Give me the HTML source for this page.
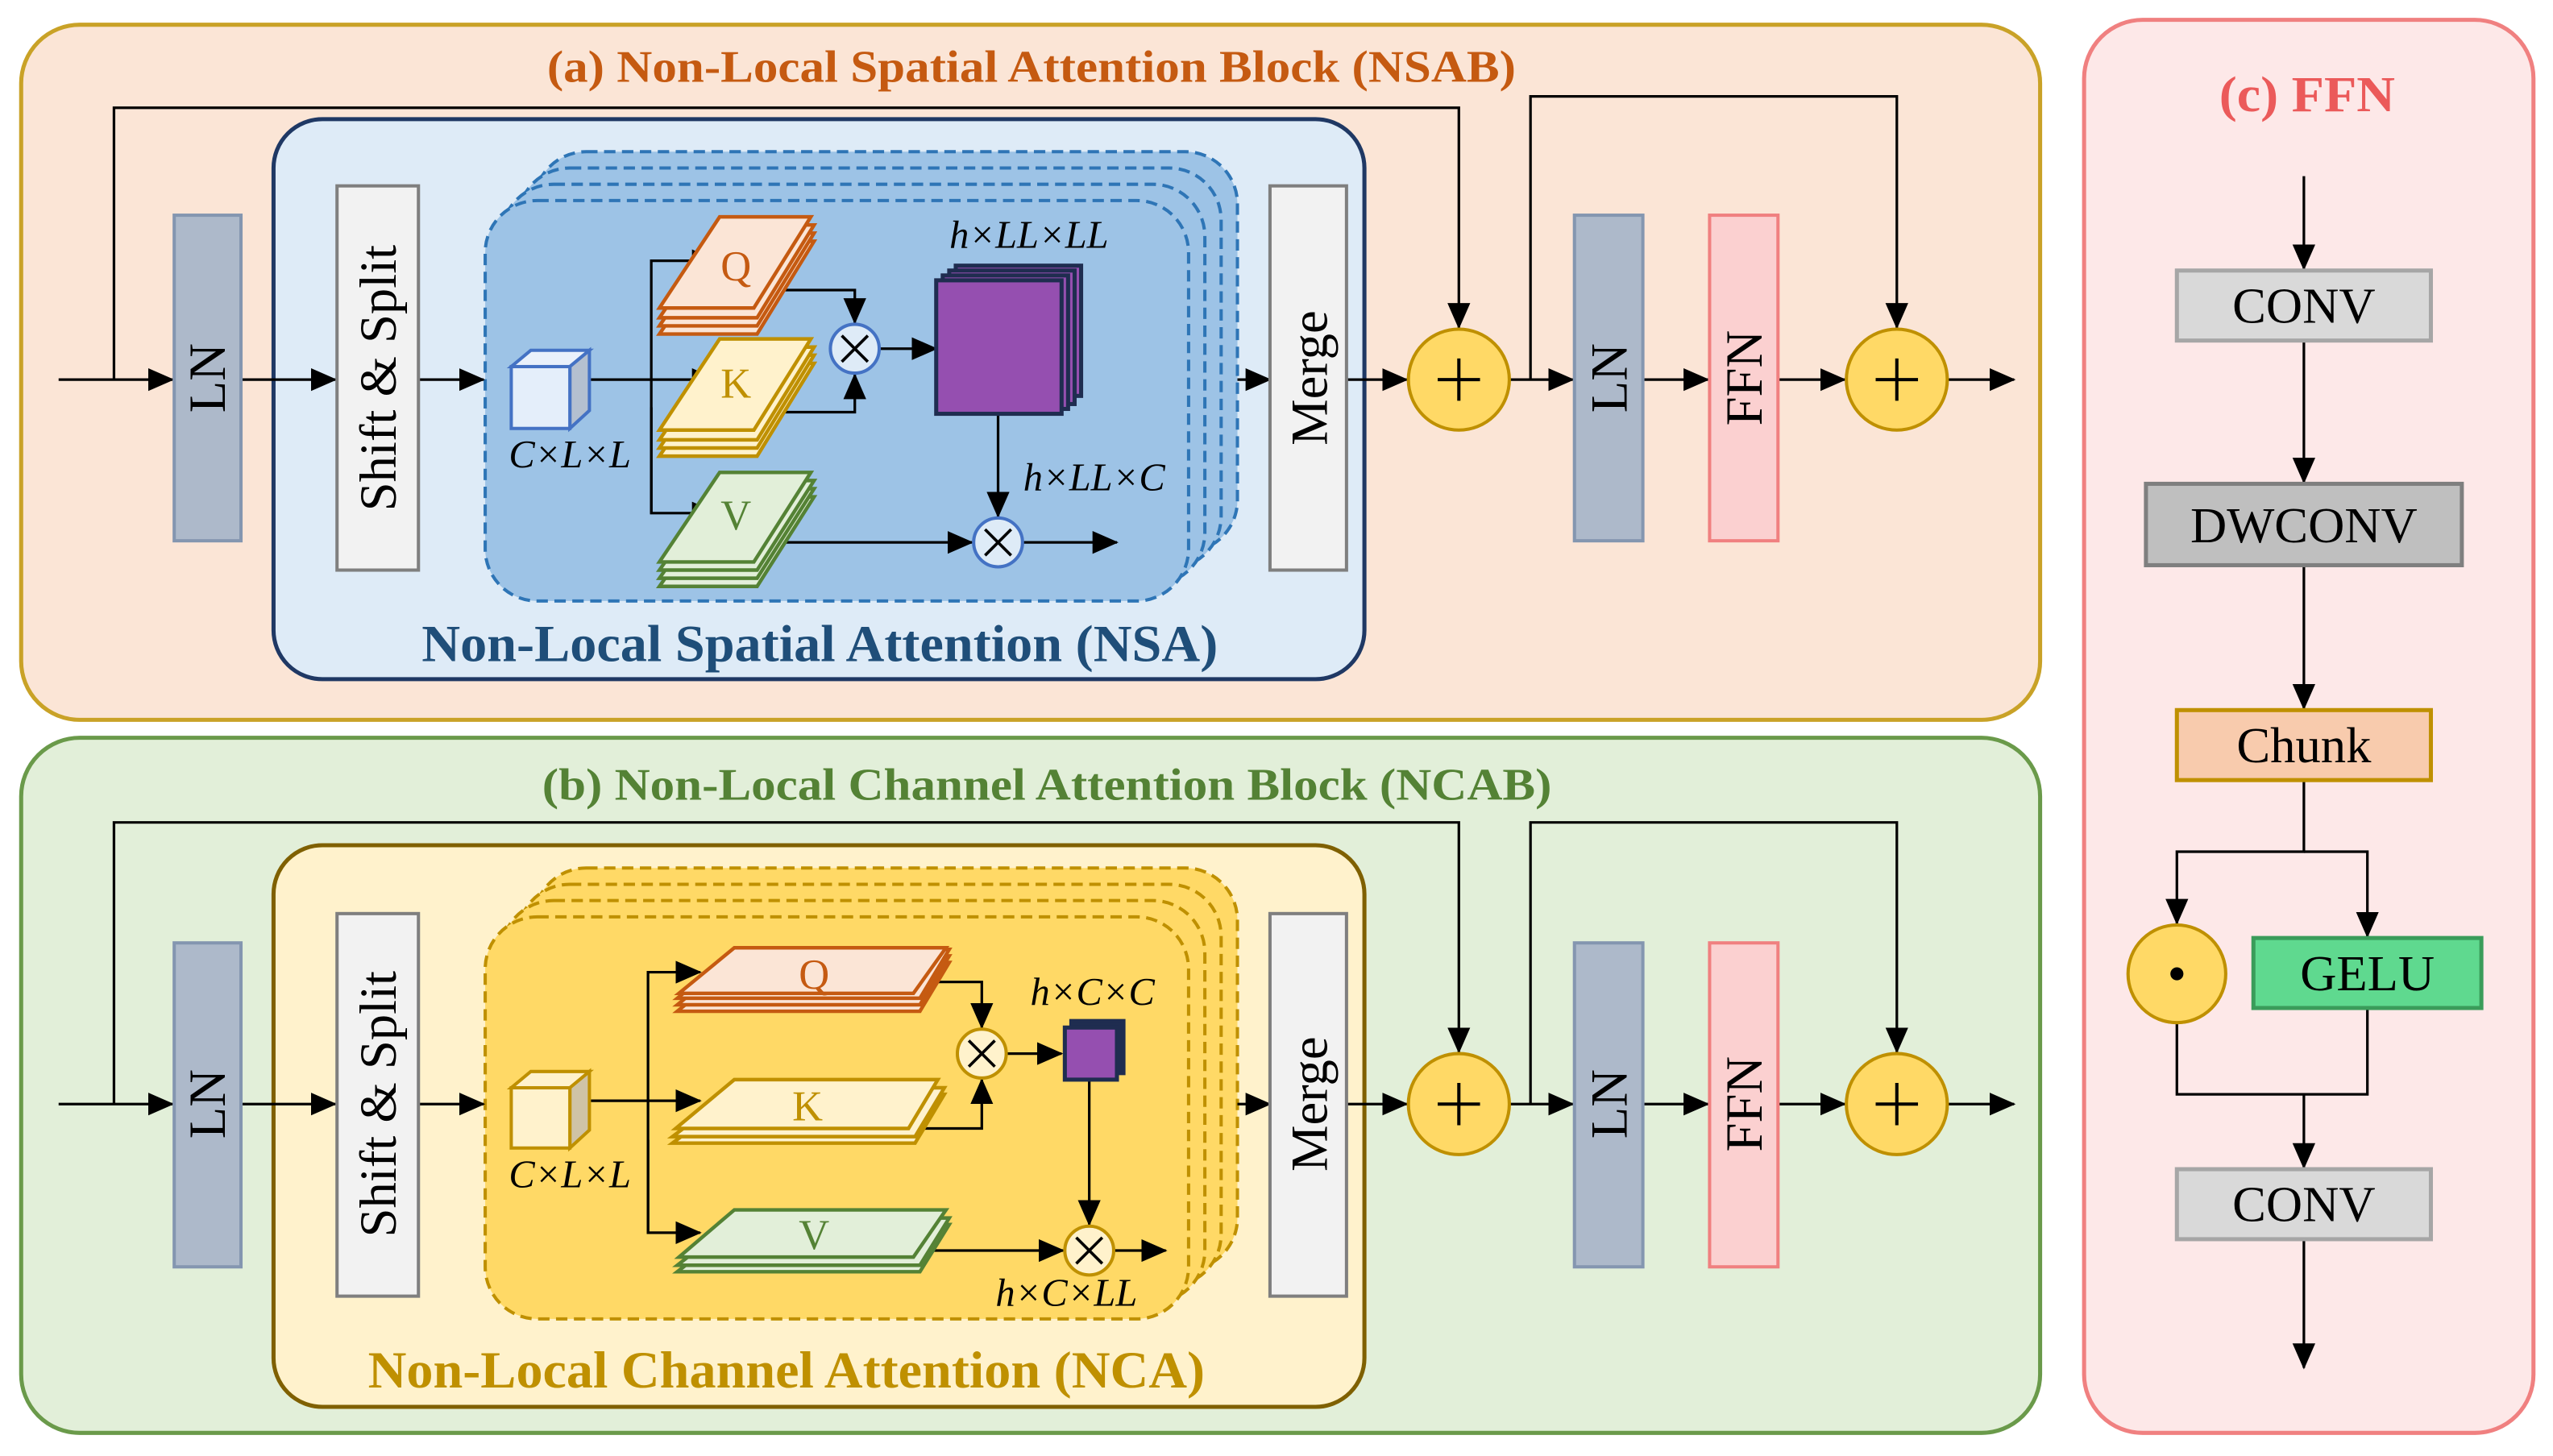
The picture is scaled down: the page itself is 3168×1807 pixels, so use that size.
<!DOCTYPE html>
<html><head><meta charset="utf-8"><style>html,body{margin:0;padding:0;background:#fff}svg{display:block}svg text{font-family:"Liberation Serif","Times New Roman",serif}</style></head>
<body>
<svg width="3168" height="1807" viewBox="0 0 1568 894" xmlns="http://www.w3.org/2000/svg">
<defs>
<marker id="ar2" markerWidth="16" markerHeight="14" refX="15" refY="7" orient="auto" markerUnits="userSpaceOnUse" viewBox="0 0 16 14"><path d="M0,0 L16,7 L0,14 z" fill="#000"/></marker>
</defs>
<rect x="13" y="15" width="1240" height="427" rx="36" fill="#fbe5d6" stroke="#c9a227" stroke-width="2.5"/>
<rect x="13" y="453" width="1240" height="427" rx="36" fill="#e2efd9" stroke="#6a9a4a" stroke-width="2.5"/>
<rect x="1280" y="12" width="276" height="868" rx="36" fill="#fde8e8" stroke="#f08080" stroke-width="2.5"/>
<text x="336" y="50" textLength="595" lengthAdjust="spacingAndGlyphs" font-size="28" font-weight="bold" fill="#c55a11">(a) Non-Local Spatial Attention Block (NSAB)</text>
<text x="333" y="491" textLength="620" lengthAdjust="spacingAndGlyphs" font-size="28" font-weight="bold" fill="#548235">(b) Non-Local Channel Attention Block (NCAB)</text>
<text x="1363" y="68" textLength="108" lengthAdjust="spacingAndGlyphs" font-size="31" font-weight="bold" fill="#eb5a5a">(c) FFN</text>

<!-- ===== ROW A ===== -->
<rect x="168" y="73" width="670" height="344" rx="30" fill="#deebf7" stroke="#1f3864" stroke-width="2.5"/>
<text x="259" y="406" textLength="489" lengthAdjust="spacingAndGlyphs" font-size="32" font-weight="bold" fill="#1f4e79">Non-Local Spatial Attention (NSA)</text>
<g fill="#9dc3e6" stroke="#2e75b6" stroke-width="2" stroke-dasharray="7,4">
<rect x="328" y="93" width="432" height="246" rx="32"/>
<rect x="318" y="103" width="432" height="246" rx="32"/>
<rect x="308" y="113" width="432" height="246" rx="32"/>
<rect x="298" y="123" width="432" height="246" rx="32"/>
</g>
<g stroke="#000" stroke-width="1.6" fill="none">
<line x1="36" y1="233" x2="106" y2="233" marker-end="url(#ar2)"/>
<polyline points="70,233 70,66 896,66 896,201" marker-end="url(#ar2)"/>
<line x1="148" y1="233" x2="206" y2="233" marker-end="url(#ar2)"/>
<line x1="257" y1="233" x2="297" y2="233" marker-end="url(#ar2)"/>
<line x1="362" y1="233" x2="440" y2="233" marker-end="url(#ar2)"/>
<polyline points="400,315 400,160 440,160" marker-end="url(#ar2)"/>
<polyline points="400,250 400,315 440,315" marker-end="url(#ar2)"/>
<polyline points="468,178 525,178 525,198" marker-end="url(#ar2)"/>
<polyline points="468,253 525,253 525,230" marker-end="url(#ar2)"/>
<line x1="540" y1="214" x2="575" y2="214" marker-end="url(#ar2)"/>
<line x1="613" y1="254" x2="613" y2="317" marker-end="url(#ar2)"/>
<line x1="470" y1="333" x2="597" y2="333" marker-end="url(#ar2)"/>
<line x1="628" y1="333" x2="686" y2="333" marker-end="url(#ar2)"/>
<line x1="760" y1="233" x2="780" y2="233" marker-end="url(#ar2)"/>
<line x1="827" y1="233" x2="864" y2="233" marker-end="url(#ar2)"/>
<line x1="927" y1="233" x2="966" y2="233" marker-end="url(#ar2)"/>
<polyline points="940,233 940,59 1165,59 1165,201" marker-end="url(#ar2)"/>
<line x1="1009" y1="233" x2="1049" y2="233" marker-end="url(#ar2)"/>
<line x1="1092" y1="233" x2="1133" y2="233" marker-end="url(#ar2)"/>
<line x1="1196" y1="233" x2="1237" y2="233" marker-end="url(#ar2)"/>
</g>
<rect x="107" y="132" width="41" height="200" fill="#adb9ca" stroke="#8496b0" stroke-width="2"/>
<text transform="translate(138,232) rotate(-90)" text-anchor="middle" font-size="32">LN</text>
<rect x="207" y="114" width="50" height="236" fill="#f2f2f2" stroke="#7f7f7f" stroke-width="2"/>
<text transform="translate(243,232) rotate(-90)" text-anchor="middle" font-size="32">Shift &amp; Split</text>
<rect x="780" y="114" width="47" height="236" fill="#f2f2f2" stroke="#7f7f7f" stroke-width="2"/>
<text transform="translate(815,232) rotate(-90)" text-anchor="middle" font-size="32">Merge</text>
<g stroke="#4472c4" stroke-width="2"><polygon points="314,225 350,225 362,215 326,215" fill="#eaf1fb"/><polygon points="350,225 362,215 362,252 350,263" fill="#b4c0d0"/><rect x="314" y="225" width="36" height="38" fill="#e4eefa"/></g>
<text x="350" y="287" text-anchor="middle" font-size="24" font-style="italic">C×L×L</text>
<g stroke-width="2.2">
<g stroke="#c55a11" fill="#fbe5d6"><polygon points="444,148 500,148 465,205 405,205"/><polygon points="444,143 500,143 465,200 405,200"/><polygon points="444,138 500,138 465,195 405,195"/><polygon points="442,133 498,133 463,189 405,189"/></g>
<g stroke="#bf9000" fill="#fff2cc"><polygon points="444,223 500,223 465,280 405,280"/><polygon points="444,218 500,218 465,275 405,275"/><polygon points="444,213 500,213 465,270 405,270"/><polygon points="442,208 498,208 463,264 405,264"/></g>
<g stroke="#548235" fill="#e2efd9"><polygon points="444,305 500,305 465,360 405,360"/><polygon points="444,300 500,300 465,355 405,355"/><polygon points="444,295 500,295 465,350 405,350"/><polygon points="442,290 498,290 463,345 405,345"/></g>
</g>
<text x="452" y="172" text-anchor="middle" font-size="26" fill="#c55a11">Q</text>
<text x="452" y="244" text-anchor="middle" font-size="26" fill="#bf9000">K</text>
<text x="452" y="325" text-anchor="middle" font-size="26" fill="#548235">V</text>
<g fill="#deebf7" stroke="#4472c4" stroke-width="2"><circle cx="525" cy="214" r="15"/><circle cx="613" cy="333" r="15"/></g>
<g stroke="#000" stroke-width="1.8"><path d="M517,206 L533,222 M533,206 L517,222"/><path d="M605,325 L621,341 M621,325 L605,341"/></g>
<g fill="#954fb0" stroke="#1f2d50" stroke-width="2.5"><rect x="587" y="163" width="77" height="80"/><rect x="583" y="166" width="77" height="82"/><rect x="579" y="169" width="77" height="82"/><rect x="575" y="172" width="77" height="82"/></g>
<text x="632" y="152" text-anchor="middle" font-size="24" font-style="italic">h×LL×LL</text>
<text x="672" y="301" text-anchor="middle" font-size="24" font-style="italic">h×LL×C</text>
<g fill="#ffd966" stroke="#bf9000" stroke-width="2"><circle cx="896" cy="233" r="31"/><circle cx="1165" cy="233" r="31"/></g>
<g stroke="#000" stroke-width="2"><path d="M883,233 H909 M896,220 V246"/><path d="M1152,233 H1178 M1165,220 V246"/></g>
<rect x="967" y="132" width="42" height="200" fill="#adb9ca" stroke="#8496b0" stroke-width="2"/>
<text transform="translate(999,232) rotate(-90)" text-anchor="middle" font-size="32">LN</text>
<rect x="1050" y="132" width="42" height="200" fill="#fbd0d0" stroke="#f08080" stroke-width="2"/>
<text transform="translate(1082,232) rotate(-90)" text-anchor="middle" font-size="32">FFN</text>

<!-- ===== ROW B ===== -->
<rect x="168" y="519" width="670" height="345" rx="30" fill="#fff2cc" stroke="#7f6000" stroke-width="2.5"/>
<text x="226" y="852" textLength="514" lengthAdjust="spacingAndGlyphs" font-size="32" font-weight="bold" fill="#bf9000">Non-Local Channel Attention (NCA)</text>
<g fill="#ffd966" stroke="#bf9000" stroke-width="2" stroke-dasharray="7,4">
<rect x="328" y="533" width="432" height="247" rx="32"/>
<rect x="318" y="543" width="432" height="247" rx="32"/>
<rect x="308" y="553" width="432" height="247" rx="32"/>
<rect x="298" y="563" width="432" height="247" rx="32"/>
</g>
<g stroke="#000" stroke-width="1.6" fill="none">
<line x1="36" y1="678" x2="106" y2="678" marker-end="url(#ar2)"/>
<polyline points="70,678 70,505 896,505 896,646" marker-end="url(#ar2)"/>
<line x1="148" y1="678" x2="206" y2="678" marker-end="url(#ar2)"/>
<line x1="257" y1="678" x2="297" y2="678" marker-end="url(#ar2)"/>
<line x1="362" y1="676" x2="430" y2="676" marker-end="url(#ar2)"/>
<polyline points="398,757 398,597 430,597" marker-end="url(#ar2)"/>
<polyline points="398,700 398,757 430,757" marker-end="url(#ar2)"/>
<polyline points="552,603 603,603 603,631" marker-end="url(#ar2)"/>
<polyline points="545,693 603,693 603,663" marker-end="url(#ar2)"/>
<line x1="618" y1="647" x2="652" y2="647" marker-end="url(#ar2)"/>
<line x1="669" y1="663" x2="669" y2="752" marker-end="url(#ar2)"/>
<line x1="560" y1="768" x2="653" y2="768" marker-end="url(#ar2)"/>
<line x1="684" y1="768" x2="716" y2="768" marker-end="url(#ar2)"/>
<line x1="760" y1="678" x2="780" y2="678" marker-end="url(#ar2)"/>
<line x1="827" y1="678" x2="864" y2="678" marker-end="url(#ar2)"/>
<line x1="927" y1="678" x2="966" y2="678" marker-end="url(#ar2)"/>
<polyline points="940,678 940,505 1165,505 1165,646" marker-end="url(#ar2)"/>
<line x1="1009" y1="678" x2="1049" y2="678" marker-end="url(#ar2)"/>
<line x1="1092" y1="678" x2="1133" y2="678" marker-end="url(#ar2)"/>
<line x1="1196" y1="678" x2="1237" y2="678" marker-end="url(#ar2)"/>
</g>
<rect x="107" y="579" width="41" height="199" fill="#adb9ca" stroke="#8496b0" stroke-width="2"/>
<text transform="translate(138,678) rotate(-90)" text-anchor="middle" font-size="32">LN</text>
<rect x="207" y="561" width="50" height="235" fill="#f2f2f2" stroke="#7f7f7f" stroke-width="2"/>
<text transform="translate(243,678) rotate(-90)" text-anchor="middle" font-size="32">Shift &amp; Split</text>
<rect x="780" y="561" width="47" height="235" fill="#f2f2f2" stroke="#7f7f7f" stroke-width="2"/>
<text transform="translate(815,678) rotate(-90)" text-anchor="middle" font-size="32">Merge</text>
<g stroke="#bf9000" stroke-width="2"><polygon points="314,668 350,668 362,658 326,658" fill="#fff2cc"/><polygon points="350,668 362,658 362,694 350,705" fill="#cfc3a6"/><rect x="314" y="668" width="36" height="37" fill="#fff2cc"/></g>
<text x="350" y="729" text-anchor="middle" font-size="24" font-style="italic">C×L×L</text>
<g stroke-width="2.2">
<g stroke="#c55a11" fill="#fbe5d6"><polygon points="453,591 583,591 565,621 416,621"/><polygon points="453,587 583,587 565,617 416,617"/><polygon points="453,583 583,583 565,613 416,613"/><polygon points="451,582 581,582 561,610 417,610"/></g>
<g stroke="#bf9000" fill="#fff2cc"><polygon points="453,672 580,672 562,702 413,702"/><polygon points="453,668 580,668 562,698 413,698"/><polygon points="451,663 576,663 558,693 415,693"/></g>
<g stroke="#548235" fill="#e2efd9"><polygon points="453,752 583,752 565,781 416,781"/><polygon points="453,748 583,748 565,777 416,777"/><polygon points="451,743 581,743 561,772 417,772"/></g>
</g>
<text x="500" y="607" text-anchor="middle" font-size="26" fill="#c55a11">Q</text>
<text x="496" y="688" text-anchor="middle" font-size="26" fill="#bf9000">K</text>
<text x="500" y="767" text-anchor="middle" font-size="26" fill="#548235">V</text>
<g fill="#fff2cc" stroke="#bf9000" stroke-width="2"><circle cx="603" cy="647" r="15"/><circle cx="669" cy="768" r="15"/></g>
<g stroke="#000" stroke-width="1.8"><path d="M595,639 L611,655 M611,639 L595,655"/><path d="M661,760 L677,776 M677,760 L661,776"/></g>
<g fill="#954fb0" stroke="#1f2d50" stroke-width="2.5"><rect x="658" y="627" width="32" height="32" fill="#1f2d50"/><rect x="654" y="631" width="32" height="32"/></g>
<text x="671" y="617" text-anchor="middle" font-size="24" font-style="italic">h×C×C</text>
<text x="655" y="802" text-anchor="middle" font-size="24" font-style="italic">h×C×LL</text>
<g fill="#ffd966" stroke="#bf9000" stroke-width="2"><circle cx="896" cy="678" r="31"/><circle cx="1165" cy="678" r="31"/></g>
<g stroke="#000" stroke-width="2"><path d="M883,678 H909 M896,665 V691"/><path d="M1152,678 H1178 M1165,665 V691"/></g>
<rect x="967" y="579" width="42" height="199" fill="#adb9ca" stroke="#8496b0" stroke-width="2"/>
<text transform="translate(999,678) rotate(-90)" text-anchor="middle" font-size="32">LN</text>
<rect x="1050" y="579" width="42" height="199" fill="#fbd0d0" stroke="#f08080" stroke-width="2"/>
<text transform="translate(1082,678) rotate(-90)" text-anchor="middle" font-size="32">FFN</text>

<!-- ===== FFN ===== -->
<g stroke="#000" stroke-width="1.6" fill="none">
<line x1="1415" y1="108" x2="1415" y2="165" marker-end="url(#ar2)"/>
<line x1="1415" y1="209" x2="1415" y2="296" marker-end="url(#ar2)"/>
<line x1="1415" y1="347" x2="1415" y2="435" marker-end="url(#ar2)"/>
<polyline points="1415,479 1415,523 1337,523 1337,567" marker-end="url(#ar2)"/>
<polyline points="1415,523 1454,523 1454,575" marker-end="url(#ar2)"/>
<polyline points="1337,628 1337,672 1454,672 1454,619"/>
<line x1="1415" y1="672" x2="1415" y2="717" marker-end="url(#ar2)"/>
<line x1="1415" y1="761" x2="1415" y2="840" marker-end="url(#ar2)"/>
</g>
<rect x="1337" y="166" width="156" height="43" fill="#d9d9d9" stroke="#a6a6a6" stroke-width="2.5"/>
<text x="1415" y="198" text-anchor="middle" font-size="31">CONV</text>
<rect x="1318" y="297" width="194" height="50" fill="#bfbfbf" stroke="#7f7f7f" stroke-width="2.5"/>
<text x="1415" y="333" text-anchor="middle" font-size="31">DWCONV</text>
<rect x="1337" y="436" width="156" height="43" fill="#f8cbad" stroke="#bf9000" stroke-width="2.5"/>
<text x="1415" y="468" text-anchor="middle" font-size="31">Chunk</text>
<circle cx="1337" cy="598" r="30" fill="#ffd966" stroke="#bf9000" stroke-width="2"/>
<circle cx="1337" cy="598" r="4" fill="#000"/>
<rect x="1384" y="576" width="140" height="43" fill="#5fd98f" stroke="#3a9c5a" stroke-width="2.5"/>
<text x="1454" y="608" text-anchor="middle" font-size="31">GELU</text>
<rect x="1337" y="718" width="156" height="43" fill="#d9d9d9" stroke="#a6a6a6" stroke-width="2.5"/>
<text x="1415" y="750" text-anchor="middle" font-size="31">CONV</text>
</svg>
</body></html>
